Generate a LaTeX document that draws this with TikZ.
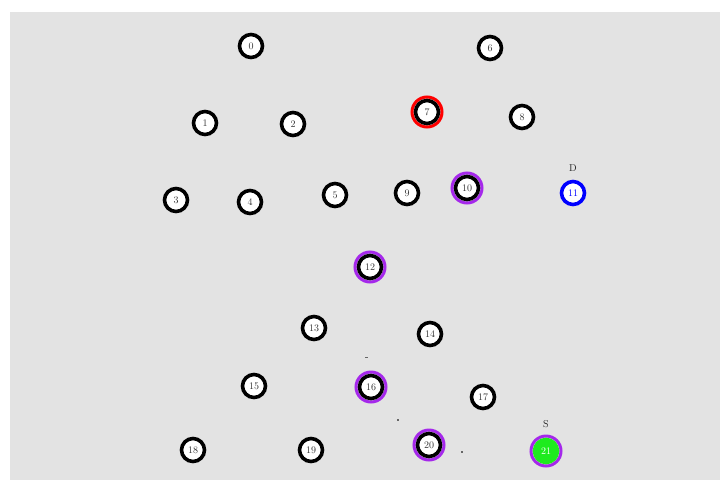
\documentclass[tikz,border=0pt]{standalone}
\definecolor{halo}{RGB}{165,40,235}
\definecolor{brgreen}{RGB}{30,235,30}
\begin{document}
\begin{tikzpicture}[x=1pt,y=-1pt,
  nd/.style={circle,draw=black,line width=3.6pt,fill=white,minimum size=23pt,inner sep=0pt,font=\fontsize{10}{10}\selectfont,text=black!80},
  glow/.style={circle,draw=halo,line width=3pt,minimum size=30pt,inner sep=0pt},
  redglow/.style={circle,draw=red,line width=3pt,minimum size=30pt,inner sep=0pt},
  lbl/.style={font=\fontsize{10}{10}\selectfont,text=black!85,inner sep=0pt}]
\useasboundingbox (0,0) rectangle (720,480);
\fill[white] (0,0) rectangle (720,480);
\fill[black!11] (10,12) rectangle (720,480);
% halos
\node[redglow] (h7) at (427,112) {};
\node[glow] (h10) at (467,188) {};
\node[glow] (h12) at (370,267) {};
\node[glow] (h16) at (371,387) {};
\node[glow] (h20) at (429,445) {};
\node[glow] (h21) at (546,451) {};
% nodes
\node[nd] (n0) at (251,46) {0};
\node[nd] (n6) at (490,48) {6};
\node[nd] (n1) at (205,123) {1};
\node[nd] (n2) at (293,124) {2};
\node[nd] (n7) at (427,112) {7};
\node[nd] (n8) at (522,117) {8};
\node[nd] (n3) at (176,200) {3};
\node[nd] (n4) at (250,202) {4};
\node[nd] (n5) at (335,195) {5};
\node[nd] (n9) at (407,193) {9};
\node[nd] (n10) at (467,188) {10};
\node[nd,draw=blue,text=blue] (n11) at (573,193) {11};
\node[nd] (n12) at (370,267) {12};
\node[nd] (n13) at (314,328) {13};
\node[nd] (n14) at (430,334) {14};
\node[nd] (n15) at (254,386) {15};
\node[nd] (n16) at (371,387) {16};
\node[nd] (n17) at (483,397) {17};
\node[nd] (n18) at (193,450) {18};
\node[nd] (n19) at (311,450) {19};
\node[nd] (n20) at (429,445) {20};
\node[nd,draw=brgreen,fill=brgreen,text=white] (n21) at (546,451) {21};
% labels
\node[lbl] (lD) at (573,168) {D};
\node[lbl] (lS) at (546,424) {S};
% tiny marks
\fill[black!60] (364.5,356.5) rectangle (368,358);
\fill[black!60] (397,419) rectangle (399,421);
\fill[black!60] (461,451) rectangle (463,453);
\end{tikzpicture}
\end{document}
